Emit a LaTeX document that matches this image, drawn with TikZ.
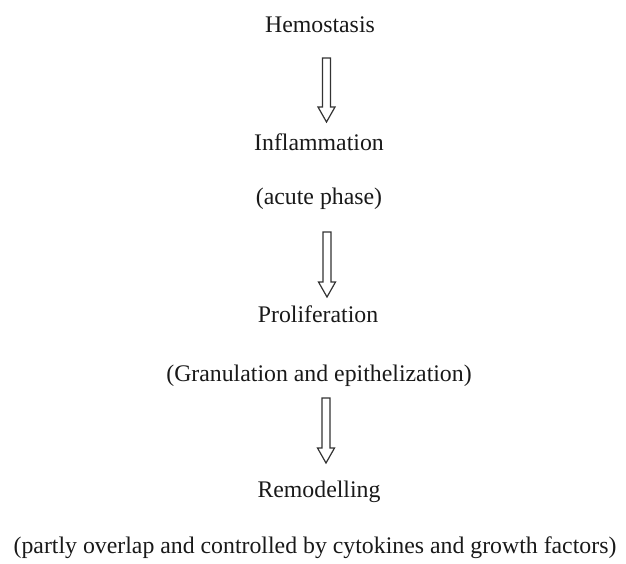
\documentclass[tikz,border=0pt]{standalone}
\usepackage{fontspec}
\setmainfont{Liberation Serif}
\usetikzlibrary{calc}
\tikzset{
  stage/.style={anchor=base, inner sep=0pt, font=\fontsize{23.8}{28}\selectfont, text=black!90},
  blockarr/.style={draw=black!80, line width=1.2pt, line join=miter, fill=white}
}
\newcommand\blockarrow[2]{%
  \draw[blockarr] ($(#1)+(-4,0)$) -- ($(#2)+(-4,-15)$) -- ($(#2)+(-8.5,-15)$) -- (#2)
    -- ($(#2)+(8.5,-15)$) -- ($(#2)+(4,-15)$) -- ($(#1)+(4,0)$) -- cycle;}
\begin{document}
\begin{tikzpicture}[x=1pt,y=-1pt]
\useasboundingbox (0,0) rectangle (626,563);
\node[stage] (hem) at (320,32) {Hemostasis};
\node[stage] (inf) at (319,150) {Inflammation};
\node[stage] (acu) at (319,204) {(acute phase)};
\node[stage] (pro) at (318,322) {Proliferation};
\node[stage] (gra) at (319,381) {(Granulation and epithelization)};
\node[stage] (rem) at (319,497) {Remodelling};
\node[stage] (par) at (315,553) {(partly overlap and controlled by cytokines and growth factors)};
\coordinate (a1t) at (326.5,58);
\coordinate (a1b) at (326.5,122);
\coordinate (a2t) at (327,232);
\coordinate (a2b) at (327,297);
\coordinate (a3t) at (326,398);
\coordinate (a3b) at (326,463);
\blockarrow{a1t}{a1b}
\blockarrow{a2t}{a2b}
\blockarrow{a3t}{a3b}
\end{tikzpicture}
\end{document}
